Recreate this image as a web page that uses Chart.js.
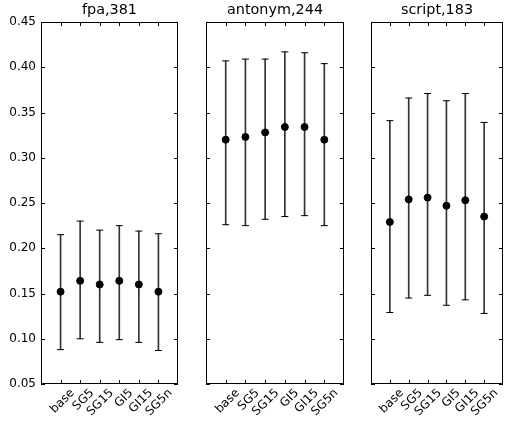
<!DOCTYPE html>
<html>
<head>
<meta charset="utf-8">
<script src="https://cdn.jsdelivr.net/npm/chart.js@4.4.0/dist/chart.umd.min.js"></script>
<style>
  html, body { margin: 0; padding: 0; background: #fff; }
  #wrap { position: relative; width: 508px; height: 421px; overflow: hidden; }
  .panel { position: absolute; left: 0; top: 0; width: 508px; height: 421px; }
</style>
</head>
<body>
<div id="wrap">
  <div class="panel"><canvas id="c0"></canvas></div>
  <div class="panel"><canvas id="c1"></canvas></div>
  <div class="panel"><canvas id="c2"></canvas></div>
</div>
<script>
// categorie sull'asse x (uguali per i tre pannelli)
const categories = ['base', 'SG5', 'SG15', 'GI5', 'GI15', 'SG5n'];
const panelTitles = ['fpa,381', 'antonym,244', 'script,183'];

// valori: media, estremo alto e basso della barra d'errore
const fpaMean = [0.152, 0.164, 0.160, 0.164, 0.160, 0.152];
const fpaHigh = [0.215, 0.230, 0.220, 0.225, 0.219, 0.216];
const fpaLow = [0.088, 0.100, 0.096, 0.099, 0.096, 0.087];

const antonymMean = [0.320, 0.323, 0.328, 0.334, 0.334, 0.320];
const antonymHigh = [0.407, 0.409, 0.409, 0.417, 0.416, 0.404];
const antonymLow = [0.226, 0.225, 0.232, 0.235, 0.236, 0.225];

const scriptMean = [0.229, 0.254, 0.256, 0.247, 0.253, 0.235];
const scriptHigh = [0.341, 0.366, 0.371, 0.363, 0.371, 0.339];
const scriptLow = [0.129, 0.145, 0.148, 0.137, 0.143, 0.128];

// asse y condiviso
const yMin = 0.05;
const yMax = 0.45;
const yStep = 0.05;

Chart.defaults.font.family = 'DejaVu Sans';
Chart.defaults.color = '#000';

// cornice e tacche interne stile matplotlib
const framePlugin = {
  id: 'frame',
  afterDraw(chart) {
    const ctx = chart.ctx;
    const a = chart.chartArea;
    const x = chart.scales.x;
    const y = chart.scales.y;
    ctx.save();
    ctx.strokeStyle = '#000';
    ctx.lineWidth = 1;
    ctx.strokeRect(a.left + 0.5, a.top + 0.5, a.right - a.left - 1, a.bottom - a.top - 1);
    ctx.beginPath();
    y.ticks.forEach(function (t) {
      const py = Math.round(y.getPixelForValue(t.value)) + 0.5;
      ctx.moveTo(a.left, py); ctx.lineTo(a.left + 4, py);
      ctx.moveTo(a.right, py); ctx.lineTo(a.right - 4, py);
    });
    x.ticks.forEach(function (t) {
      const px = Math.round(x.getPixelForValue(t.value)) + 0.5;
      ctx.moveTo(px, a.bottom); ctx.lineTo(px, a.bottom - 4);
      ctx.moveTo(px, a.top); ctx.lineTo(px, a.top + 4);
    });
    ctx.stroke();
    ctx.restore();
  }
};

function makePanel(id, title, mean, low, high, padLeft, padRight, showY) {
  var points = categories.map(function (c, i) { return { x: i, y: mean[i] }; });
  var bars = categories.map(function (c, i) { return { x: i, y: [low[i], high[i]] }; });
  var caps = [];
  categories.forEach(function (c, i) {
    caps.push({ x: i, y: low[i] });
    caps.push({ x: i, y: high[i] });
  });

  return new Chart(document.getElementById(id), {
    type: 'scatter',
    data: {
      datasets: [
        {
          type: 'scatter',
          data: points,
          pointRadius: 3.5,
          pointBorderWidth: 1,
          backgroundColor: '#000',
          borderColor: '#000',
          order: 0
        },
        {
          type: 'bar',
          data: bars,
          backgroundColor: '#333',
          borderWidth: 0,
          barThickness: 1,
          order: 2
        },
        {
          type: 'scatter',
          data: caps,
          pointStyle: 'line',
          pointRadius: 3.5,
          pointBorderWidth: 1,
          borderColor: '#000',
          order: 1
        }
      ]
    },
    options: {
      responsive: true,
      maintainAspectRatio: false,
      animation: false,
      devicePixelRatio: 1,
      events: [],
      layout: { padding: { left: padLeft, right: padRight, top: 0, bottom: 0 } },
      plugins: {
        legend: { display: false },
        tooltip: { enabled: false },
        title: {
          display: true,
          text: title,
          fullSize: false,
          color: '#000',
          font: { size: 14.4, weight: 'normal', lineHeight: 1.2 },
          padding: { top: 2, bottom: 2.72 }
        }
      },
      scales: {
        x: {
          type: 'linear',
          min: -1,
          max: 6,
          offset: false,
          grid: { display: false, drawTicks: false, offset: false },
          border: { display: false },
          ticks: {
            stepSize: 1,
            autoSkip: false,
            minRotation: 45,
            maxRotation: 45,
            labelOffset: 12,
            padding: 2,
            font: { size: 12 },
            callback: function (v) { return categories[v] !== undefined ? categories[v] : ''; }
          },
          afterBuildTicks: function (scale) {
            scale.ticks = scale.ticks.filter(function (t) { return t.value >= 0 && t.value <= 5; });
          },
          afterFit: function (scale) {
            scale.height = 37;
            scale.paddingLeft = 0;
            scale.paddingRight = 0;
          }
        },
        y: {
          min: yMin,
          max: yMax,
          grid: { display: false, drawTicks: false },
          border: { display: false },
          ticks: {
            display: showY,
            stepSize: yStep,
            padding: 5,
            font: { size: 12 },
            callback: function (v) { return v.toFixed(2); }
          },
          afterFit: function (scale) {
            scale.width = showY ? 41 : 0;
            scale.paddingTop = 0;
            scale.paddingBottom = 0;
          }
        }
      }
    },
    plugins: [framePlugin]
  });
}

makePanel('c0', panelTitles[0], fpaMean, fpaLow, fpaHigh, 0, 330, true);
makePanel('c1', panelTitles[1], antonymMean, antonymLow, antonymHigh, 206, 164, false);
makePanel('c2', panelTitles[2], scriptMean, scriptLow, scriptHigh, 371, -1, false);
</script>
</body>
</html>
